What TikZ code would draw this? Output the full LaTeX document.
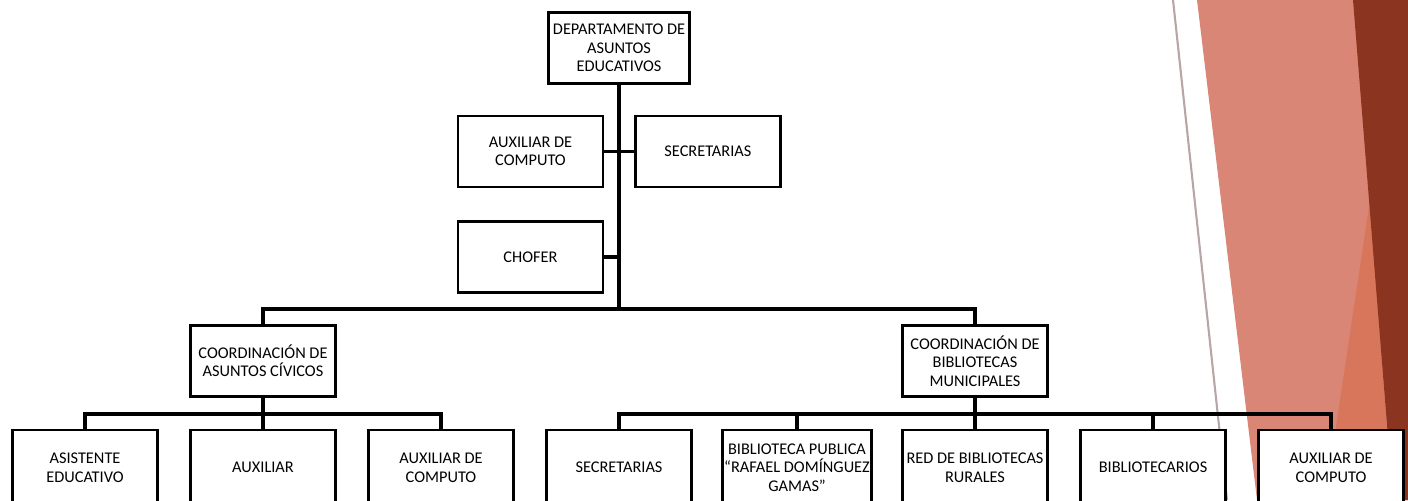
\documentclass[tikz,border=0pt]{standalone}
\usepackage{fontspec}
\setmainfont{Carlito}
\usetikzlibrary{positioning,calc}

\definecolor{salmon}{HTML}{D98676}
\definecolor{rust}{HTML}{D8765B}
\definecolor{brick}{HTML}{8B3520}
\definecolor{stripe}{HTML}{B8A6A6}

\begin{document}
\begin{tikzpicture}
[
   x=0.02cm, y=-0.02cm,
   align=center,
   font=\fontsize{9.3}{10.4}\selectfont
]

\tikzset{box/.style = {shape=rectangle, draw, fill=white, line width=1.4pt, minimum width=2.9cm, minimum height=1.42cm, inner sep=1pt}}
\tikzset{leaf/.style = {box, anchor=north, minimum height=1.5cm}}
\tikzset{edge/.style = {line width=1.8pt}}

\useasboundingbox (0,0) rectangle (1408,500);

% background
\fill[salmon] (1197,0) -- (1408,0) -- (1408,500) -- (1257,500) -- cycle;
\fill[rust] (1370,200) -- (1392,500) -- (1325,500) -- cycle;
\fill[brick] (1353,0) -- (1408,0) -- (1408,500) -- (1393,500) -- cycle;
\draw[stripe, line width=1.2pt] (1173,0) -- (1227,500);

% nodes
\node[box, minimum width=2.82cm] (dep) at (619,48) {DEPARTAMENTO DE\\ASUNTOS\\EDUCATIVOS};
\node[box] (aux) at (530.5,151.5) {AUXILIAR DE\\COMPUTO};
\node[box] (sec) [right =0.6cm of aux] {SECRETARIAS};
\node[box] (cho) [below =0.64cm of aux] {CHOFER};
\node[box] (cca) at (263,361) {COORDINACIÓN DE\\ASUNTOS CÍVICOS};
\node[box] (ccb) at (975,361) {COORDINACIÓN DE\\BIBLIOTECAS\\MUNICIPALES};

\node[leaf] (ae) at (85,429) {ASISTENTE\\EDUCATIVO};
\node[leaf] (au) at (263,429) {AUXILIAR};
\node[leaf] (ac) at (441,429) {AUXILIAR DE\\COMPUTO};
\node[leaf] (se) at (619,429) {SECRETARIAS};
\node[leaf] (bp) at (797,429) {BIBLIOTECA PUBLICA\\“RAFAEL DOMÍNGUEZ\\GAMAS”};
\node[leaf] (rb) at (975,429) {RED DE BIBLIOTECAS\\RURALES};
\node[leaf] (bi) at (1153,429) {BIBLIOTECARIOS};
\node[leaf] (ax) at (1331,429) {AUXILIAR DE\\COMPUTO};

\coordinate (j1) at (619,309);
\coordinate (j2) at (263,414);
\coordinate (j3) at (975,414);

% arcs
\draw[edge] (dep.south) -- (j1);
\draw[edge] (aux.east) -- (aux.east -| dep.south);
\draw[edge] (sec.west) -- (sec.west -| dep.south);
\draw[edge] (cho.east) -- (cho.east -| dep.south);
\draw[edge] (cca.north) |- (j1) -| (ccb.north);
\draw[edge] (cca.south) -- (au.north);
\draw[edge] (ae.north) |- (j2) -| (ac.north);
\draw[edge] (ccb.south) -- (rb.north);
\draw[edge] (se.north) |- (j3) -| (ax.north);
\draw[edge] (bp.north) -- (bp.north |- j3);
\draw[edge] (bi.north) -- (bi.north |- j3);

\end{tikzpicture}
\end{document}
